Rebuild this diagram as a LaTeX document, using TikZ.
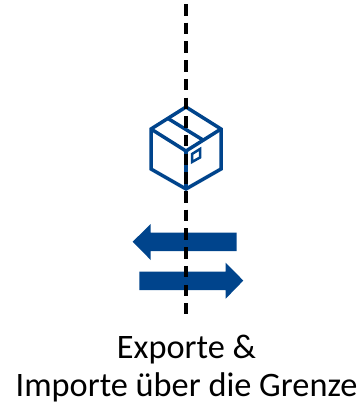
\documentclass[tikz,border=0pt]{standalone}
\usepackage{fontspec}
\setmainfont{Carlito}
\definecolor{zollblau}{HTML}{00448C}
\tikzset{
  boxline/.style={draw=zollblau,line width=3.5bp,line join=miter},
  labelline/.style={draw=zollblau,line width=2.5bp},
  flowarrow/.style={fill=zollblau,draw=none},
  border/.style={draw=black,line width=3.2bp,dash pattern=on 11.5bp off 7.2bp},
  caption/.style={anchor=base,inner sep=0pt,text=black,font=\fontsize{34.3bp}{38bp}\selectfont}
}
\begin{document}
\begin{tikzpicture}[x=1bp,y=-1bp]
\useasboundingbox (0,0) rectangle (360,404);
\coordinate (top) at (186,4);
\coordinate (bot) at (186,314);
% box
\coordinate (T) at (186,107);
\coordinate (L) at (151,129);
\coordinate (R) at (221,129);
\coordinate (C) at (186,151);
\coordinate (B) at (186,189);
\coordinate (LL) at (151,169);
\coordinate (RL) at (221,169);
\coordinate (tape1) at (168,118.5);
\coordinate (tape2) at (203,140);
\draw[boxline] (T) -- (R) -- (RL) -- (B) -- (LL) -- (L) -- cycle;
\draw[boxline] (L) -- (C) -- (R);
\draw[boxline] (C) -- (B);
\draw[boxline] (tape1) -- (tape2);
\draw[labelline] (192,154) -- (200,149) -- (200,157.5) -- (192,162) -- cycle;
% arrows
\fill[flowarrow] (132.7,241.7) -- (150.7,224) -- (150.7,232.5) -- (236.7,232.5) -- (236.7,251) -- (150.7,251) -- (150.7,260) -- cycle;
\fill[flowarrow] (243.3,280.6) -- (225.7,262.7) -- (225.7,271.5) -- (139.3,271.5) -- (139.3,290) -- (225.7,290) -- (225.7,298.7) -- cycle;
% border
\draw[border] (top) -- (bot);
% text
\node[caption] (line1) at (186.5,358) {Exporte \&};
\node[caption] (line2) at (186.5,396) {Importe über die Grenze};
\end{tikzpicture}
\end{document}
